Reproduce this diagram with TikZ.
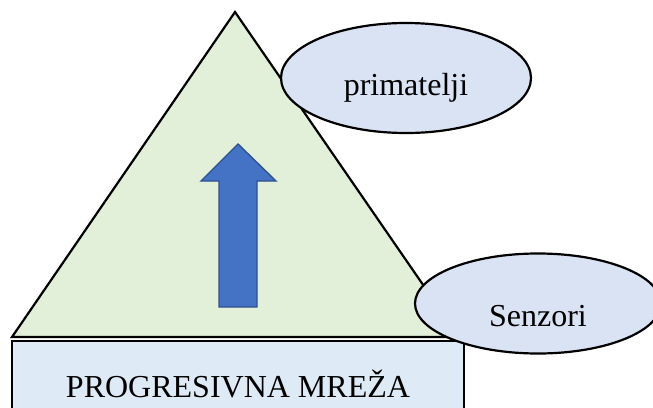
\documentclass[tikz,border=0pt]{standalone}
\usepackage{fontspec}
\setmainfont{Liberation Serif}
\usetikzlibrary{shapes}
\definecolor{trifill}{HTML}{E2F0D9}
\definecolor{ovalfill}{HTML}{DAE3F3}
\definecolor{basefill}{HTML}{DEEBF7}
\definecolor{arrowfill}{HTML}{4472C4}
\definecolor{arrowline}{HTML}{2F528F}
\begin{document}
\begin{tikzpicture}[x=1pt,y=-1pt,
         outln/.style={draw=black,line width=2.2pt},
         oval/.style={outln,ellipse,fill=ovalfill,inner sep=0pt},
         lbl/.style={anchor=base,font=\fontsize{32}{38}\selectfont}]
      %
         \clip (0,0) rectangle (653,407);
      % pyramid and base
         \draw[outln,fill=trifill] (12,337) -- (235,12) -- (459,337) -- cycle;
         \node (base) at (238,390) [outln,rectangle,fill=basefill,minimum width=452pt,minimum height=98pt] {};
         \node (mreza) at (238,397) [lbl] {PROGRESIVNA MREŽA};
      % arrow
         \draw[fill=arrowfill,draw=arrowline,line width=1.4pt]
            (238,144) -- (276,181) -- (257,181) -- (257,307) -- (219,307) -- (219,181) -- (201,181) -- cycle;
      % ovals
         \node (prim) at (406,78) [oval,minimum width=250pt,minimum height=110pt] {};
         \node (primtxt) at (406,95) [lbl] {primatelji};
         \node (senz) at (538,303.5) [oval,minimum width=246pt,minimum height=100pt] {};
         \node (senztxt) at (538,326) [lbl] {Senzori};
\end{tikzpicture}
\end{document}
